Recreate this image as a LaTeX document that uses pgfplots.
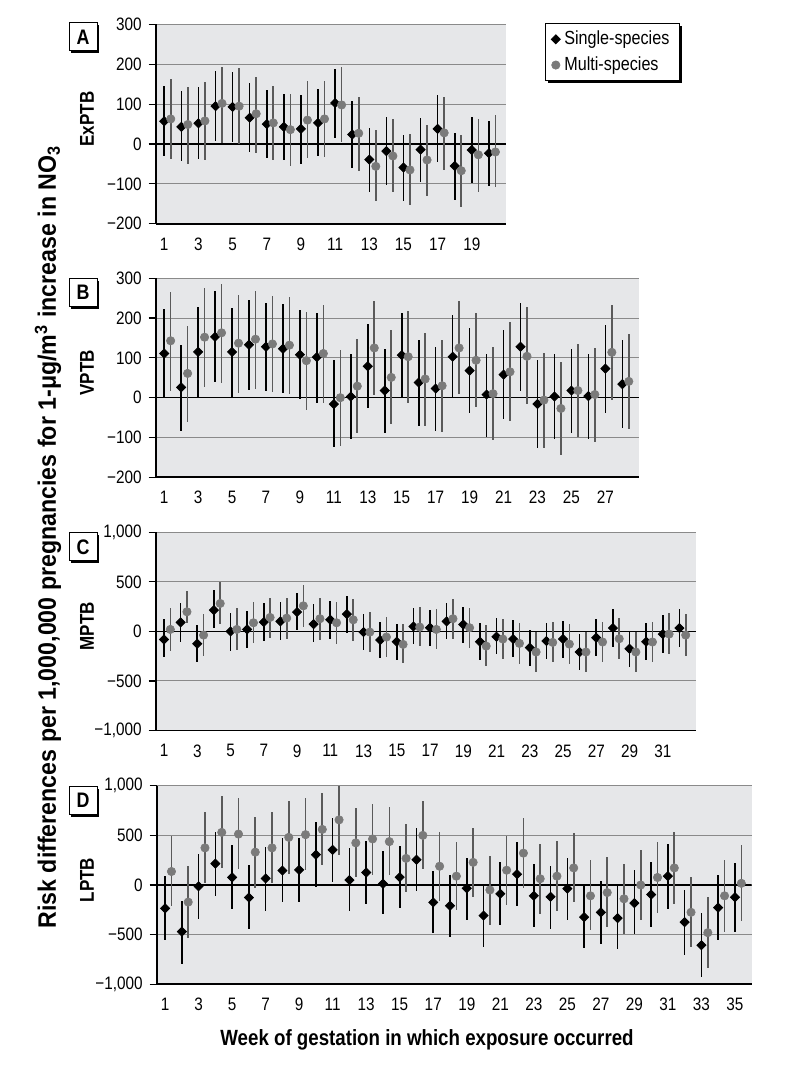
\documentclass[border=0pt]{standalone}
\usepackage{fontspec}
\setmainfont{Liberation Sans}[FakeStretch=0.85]
\newfontfamily\labfont{Liberation Sans}[FakeStretch=0.92]
\usepackage{pgfplots}
\pgfplotsset{compat=1.18}
\usepackage{pgfplotstable}
\usetikzlibrary{shadows}

\definecolor{bg}{HTML}{E6E7E9}
\definecolor{gridc}{HTML}{8A8A8A}
\definecolor{multi}{HTML}{7A7A7A}
\definecolor{multibar}{HTML}{5A5A5A}

% columns: week, single-species estimate, lower, upper, multi-species estimate, lower, upper
\pgfplotstableread{
w s slo shi m mlo mhi
1 57 -31 146 63 -37 163
2 43 -43 132 49 -49 144
3 52 -37 142 58 -39 156
4 95 8 183 102 2 194
5 93 6 182 95 0 190
6 66 -21 153 76 -22 168
7 50 -34 135 53 -41 146
8 43 -39 126 36 -54 126
9 38 -49 123 60 -35 157
10 53 -31 138 63 -33 157
11 103 14 188 98 4 194
12 24 -60 108 27 -68 118
13 -39 -120 41 -56 -143 36
14 -18 -102 68 -30 -121 63
15 -59 -142 22 -65 -154 24
16 -14 -95 65 -40 -131 48
17 38 -46 122 28 -64 119
18 -55 -141 28 -67 -158 23
19 -15 -99 69 -27 -120 63
20 -23 -106 58 -20 -109 73
}\tabA

\pgfplotstableread{
w s slo shi m mlo mhi
1 111 0 222 143 18 265
2 26 -83 133 61 -60 180
3 115 0 229 152 28 276
4 153 40 268 163 38 286
5 115 3 226 137 13 259
6 133 19 246 147 21 268
7 128 18 237 135 15 256
8 123 11 235 132 9 254
9 108 -4 221 93 -31 215
10 102 -13 212 111 -13 234
11 -16 -125 94 0 -121 119
12 3 -104 109 29 -88 147
13 79 -27 186 125 8 242
14 18 -89 123 51 -66 169
15 107 0 213 103 -13 219
16 38 -70 144 47 -70 163
17 23 -83 128 30 -87 144
18 103 0 209 125 9 242
19 68 -39 175 94 -23 213
20 8 -99 111 10 -106 128
21 58 -53 169 65 -58 190
22 128 18 238 104 -16 228
23 -16 -127 94 -6 -127 113
24 3 -103 109 -27 -145 90
25 18 -89 123 18 -99 134
26 4 -103 111 8 -112 126
27 73 -38 182 114 -6 234
28 34 -75 144 41 -79 159
}\tabB

\pgfplotstableread{
w s slo shi m mlo mhi
1 -81 -262 121 20 -195 232
2 91 -104 282 198 81 406
3 -124 -312 64 -37 -245 175
4 215 30 416 282 74 500
5 0 -195 181 20 -188 232
6 20 -168 208 87 -121 299
7 94 -94 282 141 -64 342
8 101 -91 292 134 -77 342
9 195 13 389 258 47 466
10 74 -111 272 128 -87 342
11 117 -77 309 87 -124 299
12 175 -13 362 117 -94 326
13 -7 -191 175 -7 -211 198
14 -87 -265 91 -57 -255 148
15 -104 -289 74 -131 -322 70
16 50 -131 238 44 -148 248
17 37 -148 215 20 -181 225
18 101 -81 282 128 -77 332
19 70 -114 248 37 -164 238
20 -104 -289 81 -148 -346 64
21 -54 -232 131 -77 -282 124
22 -77 -255 114 -121 -329 87
23 -164 -346 13 -208 -413 -3
24 -97 -282 87 -111 -312 97
25 -77 -265 107 -128 -329 74
26 -208 -389 -27 -208 -413 -3
27 -64 -248 121 -107 -312 91
28 34 -154 222 -74 -279 131
29 -175 -356 7 -208 -413 -3
30 -104 -289 87 -107 -312 97
31 -27 -215 164 -27 -228 188
32 34 -154 225 -37 -245 175
}\tabC

\pgfplotstableread{
w s slo shi m mlo mhi
1 -235 -556 93 136 -215 497
2 -470 -795 -156 -172 -530 189
3 -13 -341 315 374 23 735
4 215 -109 536 530 175 894
5 76 -242 404 513 166 877
6 -126 -447 199 331 -26 685
7 66 -258 381 374 23 735
8 146 -172 470 480 109 844
9 152 -172 473 507 156 877
10 305 -17 636 560 199 927
11 354 33 679 656 305 993
12 50 -265 371 424 83 778
13 126 -189 447 464 99 818
14 13 -291 338 437 99 788
15 79 -232 397 268 -73 613
16 255 -60 570 500 159 851
17 -175 -487 139 189 -166 533
18 -209 -523 99 89 -255 437
19 -33 -348 275 228 -116 573
20 -308 -622 0 -50 -404 291
21 -89 -404 232 149 -205 497
22 109 -209 430 321 -26 672
23 -109 -424 215 63 -291 414
24 -119 -440 195 89 -265 440
25 -36 -354 275 172 -175 523
26 -324 -639 -10 -109 -457 255
27 -275 -596 43 -76 -424 281
28 -334 -646 -10 -139 -490 209
29 -182 -497 149 0 -354 354
30 -96 -420 228 76 -281 437
31 89 -242 414 172 -189 536
32 -374 -705 -50 -275 -629 83
33 -606 -927 -281 -480 -838 -116
34 -228 -553 99 -109 -470 255
35 -123 -470 222 17 -364 404
}\tabD

\pgfplotsset{
  panel/.style={
    scale only axis,
    axis lines*=left,
    axis line style={black, line width=0.9pt},
    axis background/.style={fill=bg},
    ymajorgrids,
    major grid style={gridc, line width=0.5pt},
    tick align=outside,
    major tick length=3.5pt,
    xtick style={draw=none},
    ytick style={black, line width=0.6pt},
    tick label style={font=\fontsize{9}{10}\selectfont},
    /pgf/number format/assume math mode=true,
    xmin=0.5,
  },
  small/.style={ymin=-200, ymax=300, ytick={-200,-100,0,100,200,300},
    yticklabels={−200,−100,0,100,200,300}},
  big/.style={ymin=-1000, ymax=1000, ytick={-1000,-500,0,500,1000},
    yticklabels={{−1,000},−500,0,500,{1,000}}},
  single/.style={only marks, mark=square*, mark size=1.6pt,
    mark options={rotate=45, fill=black, draw=black},
    error bars/.cd, y dir=both, y explicit, error mark=none,
    error bar style={black, line width=0.8pt}},
  multisp/.style={only marks, mark=*, mark size=2.1pt,
    mark options={fill=multi, draw=multi, line width=0.3pt},
    error bars/.cd, y dir=both, y explicit, error mark=none,
    error bar style={multibar, line width=0.8pt}},
}

\newcommand{\panelplots}[1]{%
  \addplot[single] table[x=w, y=s,
    y error plus expr=\thisrow{shi}-\thisrow{s},
    y error minus expr=\thisrow{s}-\thisrow{slo}] {#1};
  \addplot[multisp] table[x expr=\thisrow{w}+0.38, y=m,
    y error plus expr=\thisrow{mhi}-\thisrow{m},
    y error minus expr=\thisrow{m}-\thisrow{mlo}] {#1};
}

\tikzset{
  letterbox/.style={draw=black, line width=0.5pt, fill=white,
    minimum width=14pt, minimum height=14pt, inner sep=0pt,
    font=\bfseries\fontsize{10.5}{11}\selectfont,
    drop shadow={shadow xshift=1.2pt, shadow yshift=-1.2pt, fill=black, opacity=1}},
  rowlab/.style={rotate=90, font=\bfseries\fontsize{10}{11}\selectfont},
}

\begin{document}
\begin{tikzpicture}
\useasboundingbox (0,0) rectangle (400pt,-537.5pt);

% A
\begin{axis}[panel, small, at={(77.85pt,-111.85pt)}, anchor=south west,
  width=175.15pt, height=99.6pt, xmax=21, xtick={1,3,...,19},
  legend entries={Single-species, Multi-species},
  legend cell align=left,
  legend style={at={(rel axis cs:1.111,1.005)}, anchor=north west,
    draw=black, line width=0.4pt, fill=white,
    font=\fontsize{9.5}{11}\selectfont, inner xsep=3pt, inner ysep=1.5pt,
    row sep=0.5pt,
    drop shadow={shadow xshift=1.2pt, shadow yshift=-1.2pt, fill=black, opacity=1}}]
  \draw[black, line width=0.7pt] (axis cs:0.5,0) -- (axis cs:21,0);
  \panelplots{\tabA}
\end{axis}

% B
\begin{axis}[panel, small, at={(77.85pt,-238.65pt)}, anchor=south west,
  width=241.8pt, height=99.5pt, xmax=29, xtick={1,3,...,27}]
  \draw[black, line width=0.7pt] (axis cs:0.5,0) -- (axis cs:29,0);
  \panelplots{\tabB}
\end{axis}

% C
\begin{axis}[panel, big, at={(77.85pt,-365.25pt)}, anchor=south west,
  width=270.15pt, height=99.1pt, xmax=33, xtick={1,3,...,31}]
  \draw[black, line width=0.7pt] (axis cs:0.5,0) -- (axis cs:33,0);
  \panelplots{\tabC}
\end{axis}

% D
\begin{axis}[panel, big, at={(78.35pt,-492.15pt)}, anchor=south west,
  width=297.5pt, height=99.3pt, xmax=36, xtick={1,3,...,35}]
  \draw[black, line width=0.7pt] (axis cs:0.5,0) -- (axis cs:36,0);
  \panelplots{\tabD}
\end{axis}

\node[letterbox] at (41.5pt,-18.5pt) {A};
\node[letterbox] at (41.5pt,-146.25pt) {B};
\node[letterbox] at (41.5pt,-273.4pt) {C};
\node[letterbox] at (41.5pt,-400.2pt) {D};

\node[rowlab] at (43.5pt,-59.5pt) {ExPTB};
\node[rowlab] at (43.5pt,-186.5pt) {VPTB};
\node[rowlab] at (43.5pt,-313.2pt) {MPTB};
\node[rowlab] at (43.5pt,-440pt) {LPTB};

\node[rotate=90, font=\labfont\bfseries\fontsize{12.6}{14}\selectfont] at (24pt,-268.5pt)
  {Risk differences per 1,000,000 pregnancies for 1-μg/m\textsuperscript{3} increase in NO\textsubscript{3}};
\node[font=\bfseries\fontsize{11}{13}\selectfont] at (213.5pt,-520pt)
  {Week of gestation in which exposure occurred};
\end{tikzpicture}
\end{document}
